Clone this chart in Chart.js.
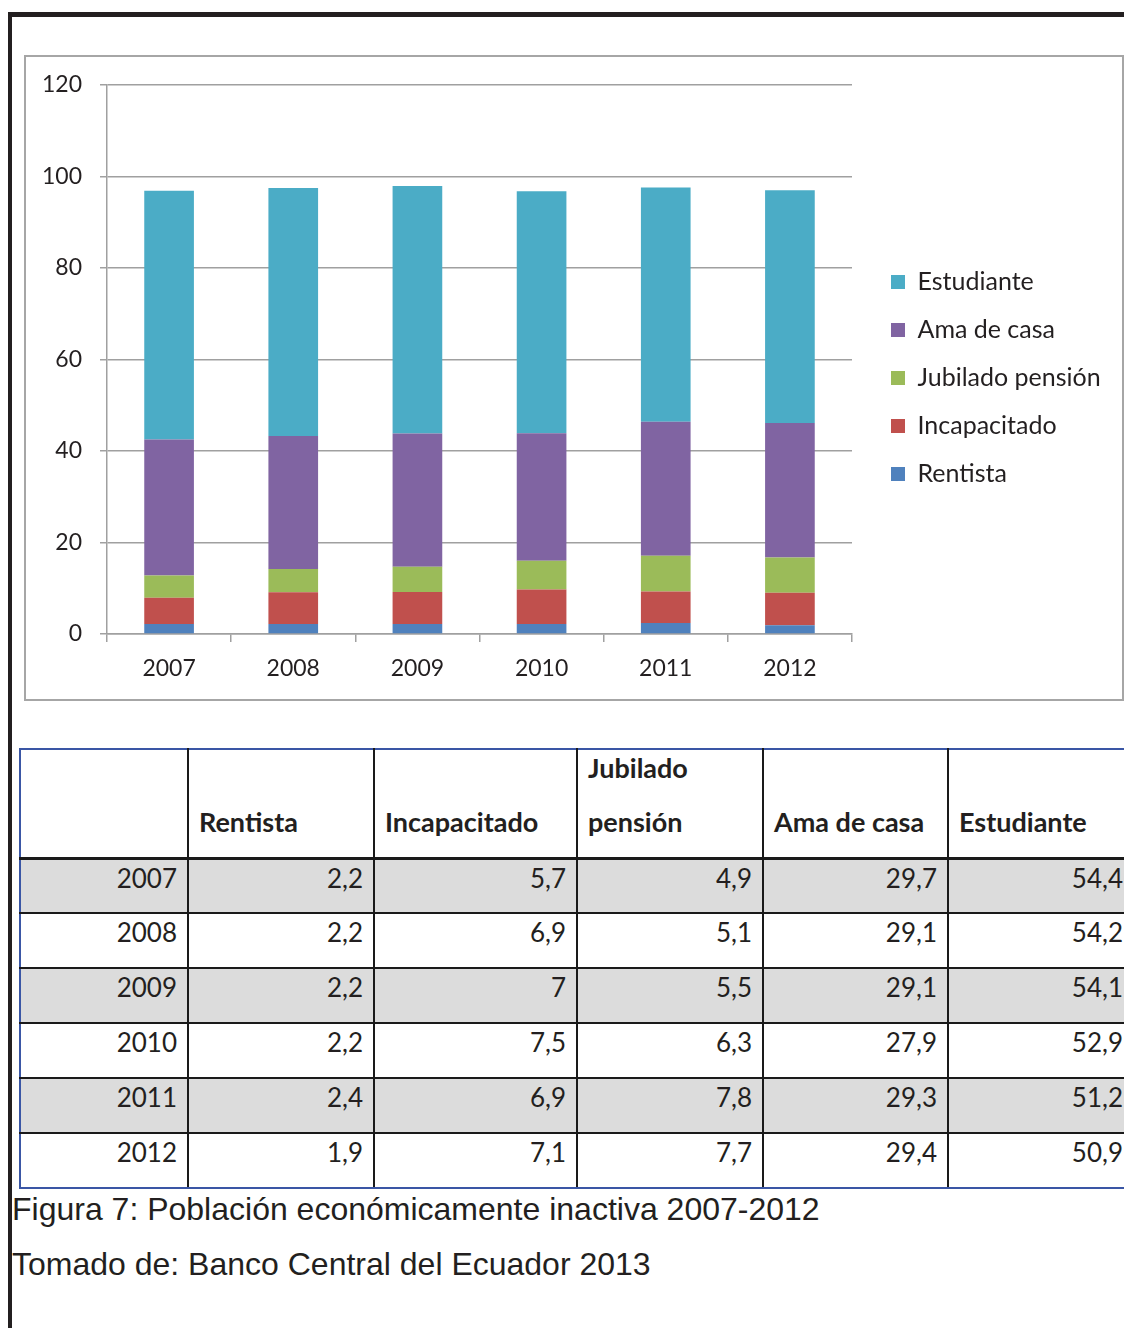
<!DOCTYPE html>
<html>
<head>
<meta charset="utf-8">
<script src="https://cdn.jsdelivr.net/npm/chart.js@4"></script>
<style>
  body { margin: 0; width: 1124px; height: 1328px; overflow: hidden; background: #fff; position: relative; font-family: Lato, sans-serif; color: #231f20; }
  #frame { position: absolute; left: 8px; top: 12px; width: 1200px; height: 1400px; border-top: 5px solid #231f20; border-left: 4px solid #231f20; }
  #chart-box { position: absolute; left: 24px; top: 55px; width: 1096px; height: 642px; border: 2px solid #a6a6a6; }
  #chart-box canvas { display: block; }
  #tabla { position: absolute; left: 19px; top: 748px; border-collapse: collapse; table-layout: fixed; width: 1114px; font-size: 26px; }
  #tabla td { border: 2px solid #1a1a1a; padding: 0 10px; }
  #tabla tr.head { height: 109px; }
  #tabla tr.head td { vertical-align: top; font-weight: bold; font-size: 27px; line-height: 54px; border-top: 2px solid #3a56a5; border-bottom: 3px solid #1a1a1a; }
  #tabla tr.head td div { margin-top: -9px; }
  #tabla tr.head td div.una { padding-top: 54px; }
  #tabla tr.row { height: 55px; }
  #tabla tr.row td { vertical-align: top; text-align: right; line-height: 30px; padding-top: 3px; }
  #tabla tr.gris td { background: #dcdcdc; }
  #tabla tr:last-child td { border-bottom: 2px solid #3a56a5; }
  #tabla td:first-child { border-left: 2px solid #3a56a5; }
  .caption { position: absolute; left: 12px; font-family: "Liberation Sans", Arial, sans-serif; font-size: 32px; line-height: 40px; color: #231f20; white-space: nowrap; }
</style>
</head>
<body>
<div id="frame"></div>
<div id="chart-box"><canvas id="grafico" width="1096" height="642"></canvas></div>
<table id="tabla"></table>
<div class="caption" style="top:1189px">Figura 7: Población económicamente inactiva 2007-2012</div>
<div class="caption" style="top:1244px">Tomado de: Banco Central del Ecuador 2013</div>

<script>
// datos (Banco Central del Ecuador)
const years = ["2007", "2008", "2009", "2010", "2011", "2012"];
const rentista = [2.2, 2.2, 2.2, 2.2, 2.4, 1.9];
const incapacitado = [5.7, 6.9, 7, 7.5, 6.9, 7.1];
const jubilado = [4.9, 5.1, 5.5, 6.3, 7.8, 7.7];
const amaDeCasa = [29.7, 29.1, 29.1, 27.9, 29.3, 29.4];
const estudiante = [54.4, 54.2, 54.1, 52.9, 51.2, 50.9];
const yMax = 120;
const yStep = 20;

const series = [
  { label: "Rentista", data: rentista, color: "#4f81bd" },
  { label: "Incapacitado", data: incapacitado, color: "#c0504d" },
  { label: "Jubilado pensión", data: jubilado, color: "#9bbb59" },
  { label: "Ama de casa", data: amaDeCasa, color: "#8064a2" },
  { label: "Estudiante", data: estudiante, color: "#4bacc6" }
];

// tabla
function fmt(v) { return String(v).replace(".", ","); }
const colWidths = [168, 186, 203, 186, 185, 186];
const tabla = document.getElementById("tabla");
let html = "<colgroup>" + colWidths.map(w => `<col style="width:${w}px">`).join("") + "</colgroup>";
html += '<tr class="head"><td></td>';
html += '<td><div class="una">Rentista</div></td><td><div class="una">Incapacitado</div></td>';
html += '<td><div>Jubilado<br>pensión</div></td><td><div class="una">Ama de casa</div></td><td><div class="una">Estudiante</div></td></tr>';
years.forEach((y, i) => {
  html += `<tr class="row${i % 2 === 0 ? " gris" : ""}"><td>${y}</td>`;
  series.forEach(s => { html += `<td>${fmt(s.data[i])}</td>`; });
  html += "</tr>";
});
tabla.innerHTML = html;

// grafico
const legendFont = 25;
const legendPad = 23;
const boxW = 14;
const ctx0 = document.createElement("canvas").getContext("2d");
ctx0.font = `${legendFont}px Lato`;
const maxText = Math.max(...series.map(s => ctx0.measureText(s.label).width));
const legendWidth = legendPad + boxW + legendFont / 2 + maxText;
const padRight = Math.max(0, 1096 - 825 - legendWidth - 11);

const gridColor = "#a0a0a0";

// mueve la leyenda: hueco a la derecha del area y centrado como en el original
const moverLeyenda = {
  id: "moverLeyenda",
  afterLayout(chart) {
    const lg = chart.legend;
    if (!lg) return;
    lg.left += 16; lg.right += 16;
    lg.top -= 14; lg.bottom -= 14;
  }
};

new Chart(document.getElementById("grafico"), {
  type: "bar",
  data: {
    labels: years,
    datasets: series.map(s => ({
      label: s.label,
      data: s.data,
      backgroundColor: s.color,
      borderWidth: 0,
      categoryPercentage: 1,
      barPercentage: 0.4
    }))
  },
  options: {
    responsive: false,
    animation: false,
    devicePixelRatio: 1,
    layout: { padding: { top: 28, bottom: 0, left: 0, right: padRight } },
    plugins: {
      tooltip: { enabled: false },
      legend: {
        position: "right",
        reverse: true,
        labels: {
          boxWidth: boxW,
          boxHeight: 14,
          padding: legendPad,
          color: "#231f20",
          font: { family: "Lato", size: legendFont }
        }
      }
    },
    scales: {
      x: {
        stacked: true,
        afterFit: s => { s.height = 65; },
        grid: { offset: true, drawOnChartArea: false, drawTicks: true, tickLength: 8, color: gridColor, lineWidth: 1.5 },
        border: { color: gridColor, width: 1.5 },
        ticks: { padding: 13, color: "#231f20", font: { family: "Lato", size: 23 } }
      },
      y: {
        stacked: true,
        min: 0,
        max: yMax,
        afterFit: s => { s.width = 81; s.paddingTop = 0; s.paddingBottom = 0; },
        grid: { color: gridColor, lineWidth: 1.5, tickLength: 7 },
        border: { color: gridColor, width: 1.5 },
        ticks: { stepSize: yStep, padding: 18, color: "#231f20", font: { family: "Lato", size: 23 } }
      }
    }
  },
  plugins: [moverLeyenda]
});
</script>
</body>
</html>
